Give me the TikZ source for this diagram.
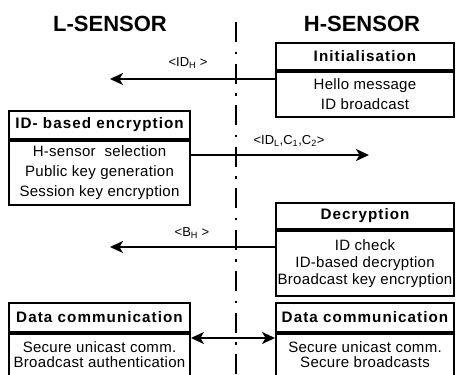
\documentclass[tikz,border=0pt]{standalone}
\usepackage{fontspec}
\setmainfont{Liberation Sans}
\newfontfamily\hdrfont[LetterSpace=7]{Liberation Sans}
\newfontfamily\bodyfont[LetterSpace=2]{Liberation Sans}
\usetikzlibrary{arrows.meta}
\begin{document}
\begin{tikzpicture}[x=1pt,y=-1pt,
  title/.style={font=\bfseries\fontsize{22}{24}\selectfont, inner sep=0pt},
  hdr/.style={draw, line width=1.9pt, inner sep=0pt, anchor=north,
    font=\hdrfont\bfseries\fontsize{15.2}{18}\selectfont},
  bodybox/.style={draw, line width=1.9pt, inner sep=0pt, anchor=north, align=center,
    font=\bodyfont\fontsize{15}{#1}\selectfont},
  lbl/.style={font=\fontsize{13}{15}\selectfont, inner sep=0pt},
  lifeline/.style={line width=2pt, dash pattern=on 20pt off 9.5pt on 2.5pt off 9.5pt},
  arr/.style={line width=1.9pt, -{Stealth[length=13pt,width=12pt,inset=3.5pt]}},
  darr/.style={line width=1.9pt, {Stealth[length=13pt,width=12pt,inset=3.5pt]}-{Stealth[length=13pt,width=12pt,inset=3.5pt]}}
]
\useasboundingbox (0,0) rectangle (456,375);

% titles
\node[title] (lt) at (110,23.5) {L-SENSOR};
\node[title] (ht) at (362,23.5) {H-SENSOR};

% lifeline
\coordinate (ltop) at (235.5,22);
\coordinate (lbot) at (235.5,375);
\draw[lifeline] (ltop) -- (lbot);

% Initialisation
\node[hdr, minimum width=178pt, minimum height=27pt] (inith) at (365,42) {Initialisation};
\node[bodybox=20, minimum width=178pt, minimum height=45pt] (initb) at (inith.south) {Hello message\\ID broadcast};

% ID-based encryption
\node[hdr, minimum width=181pt, minimum height=28pt] (ench) at (99.5,110) {ID- based encryption};
\node[bodybox=20, minimum width=181pt, minimum height=64pt] (encb) at (ench.south) {H-sensor\ \ selection\\ Public key generation\\Session key encryption};

% Decryption
\node[hdr, minimum width=178pt, minimum height=26pt] (dech) at (365,202) {Decryption};
\node[bodybox=17, minimum width=178pt, minimum height=65pt] (decb) at (dech.south) {ID check\\ID-based decryption\\Broadcast key encryption};

% Data communication left
\node[hdr, minimum width=181pt, minimum height=29pt] (dlh) at (99.5,302) {Data communication};
\node[bodybox=14.5, minimum width=181pt, minimum height=42pt] (dlb) at (dlh.south) {Secure unicast comm.\\Broadcast authentication};

% Data communication right
\node[hdr, minimum width=178pt, minimum height=29pt] (drh) at (365,302) {Data communication};
\node[bodybox=14.5, minimum width=178pt, minimum height=42pt] (drb) at (drh.south) {Secure unicast comm.\\Secure broadcasts};

% messages
\coordinate (a1) at (110,79);
\draw[arr] (initb.west |- a1) -- (a1);
\node[lbl] (l1) at (188,63) {<ID\textsubscript{H} >};

\coordinate (a2) at (369,155);
\draw[arr] (encb.east |- a2) -- (a2);
\node[lbl] (l2) at (289,141) {<ID\textsubscript{L},C\textsubscript{1},C\textsubscript{2}>};

\coordinate (a3) at (110,247);
\draw[arr] (decb.west |- a3) -- (a3);
\node[lbl] (l3) at (192,233) {<B\textsubscript{H} >};

\coordinate (a4) at (233,338);
\draw[darr] (dlb.east |- a4) -- (drb.west |- a4);
\end{tikzpicture}
\end{document}
